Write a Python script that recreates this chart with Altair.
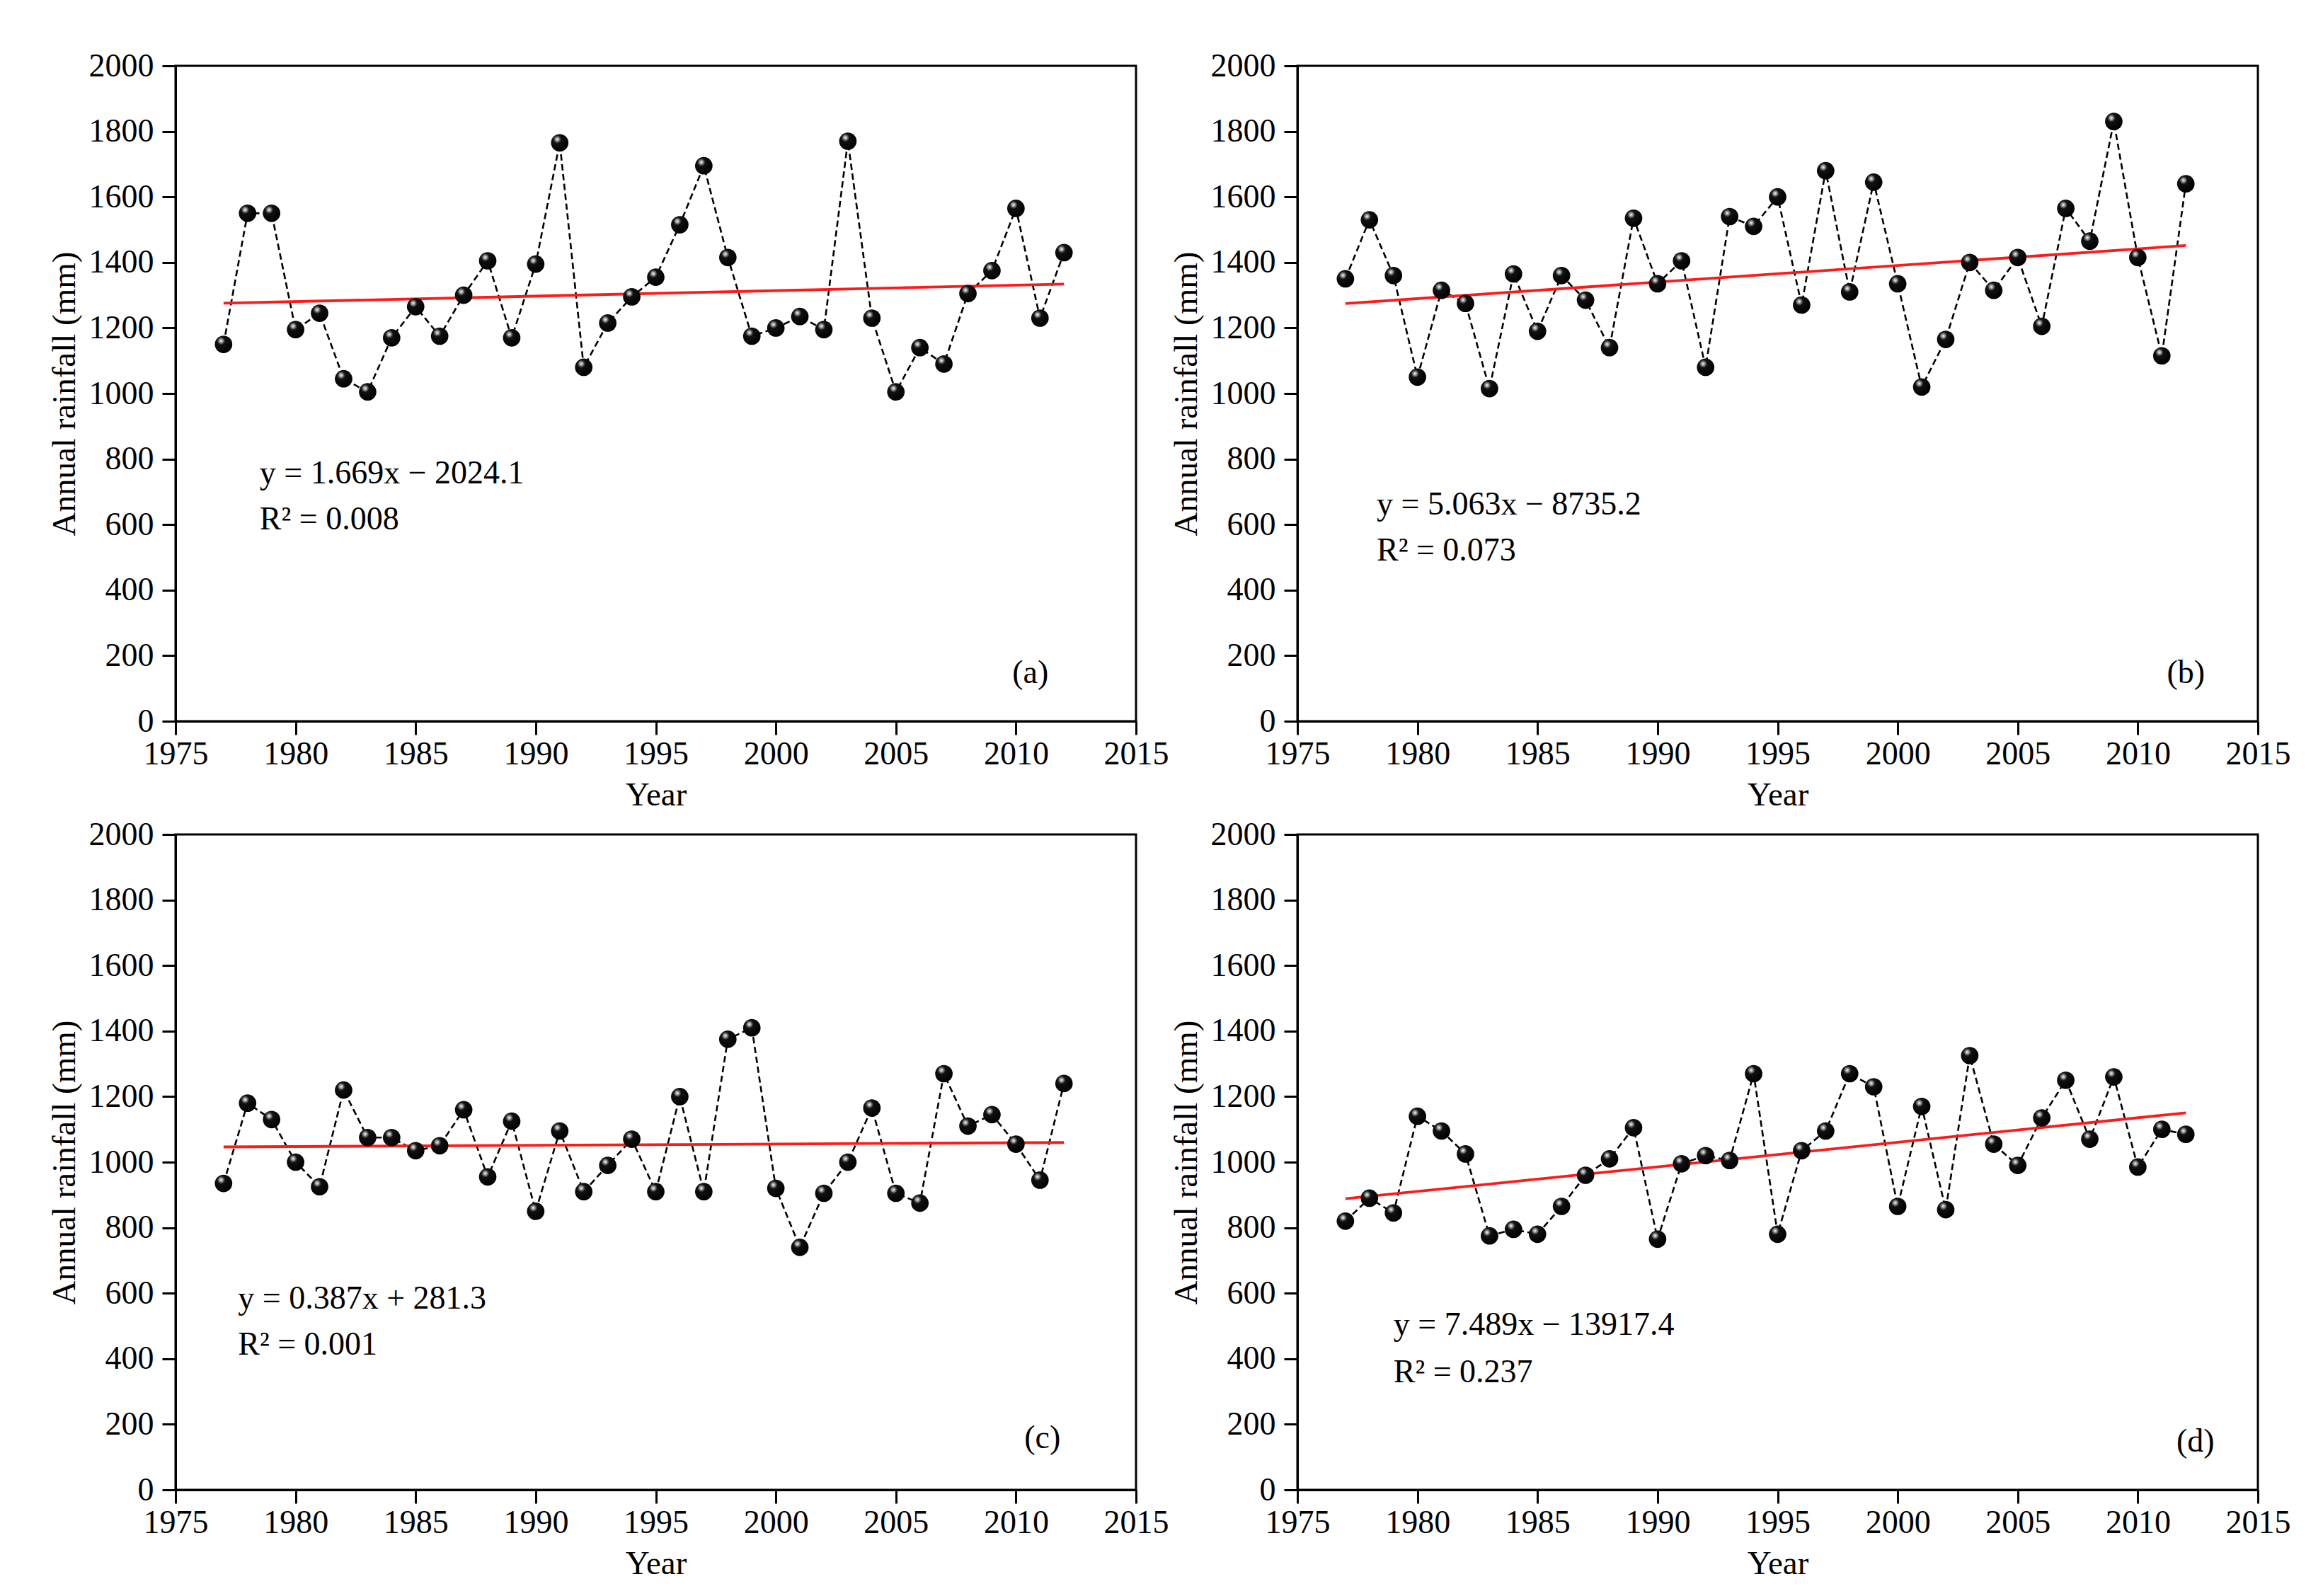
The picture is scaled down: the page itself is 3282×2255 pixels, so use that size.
import altair as alt
import pandas as pd

years = list(range(1977, 2013))

rain_a = [1150, 1550, 1550, 1195, 1245, 1045, 1005, 1170, 1265, 1175,
          1300, 1405, 1170, 1395, 1765, 1080, 1215, 1295, 1355, 1515,
          1695, 1415, 1175, 1200, 1235, 1195, 1770, 1230, 1005, 1140,
          1090, 1305, 1375, 1565, 1230, 1430]
rain_b = [1350, 1530, 1360, 1050, 1315, 1275, 1015, 1365, 1190, 1360,
          1285, 1140, 1535, 1335, 1405, 1080, 1540, 1510, 1600, 1270,
          1680, 1310, 1645, 1335, 1020, 1165, 1400, 1315, 1415, 1205,
          1565, 1465, 1830, 1415, 1115, 1640]
rain_c = [935, 1180, 1130, 1000, 925, 1220, 1075, 1075, 1035, 1050,
          1160, 955, 1125, 850, 1095, 910, 990, 1070, 910, 1200,
          910, 1375, 1410, 920, 740, 905, 1000, 1165, 905, 875,
          1270, 1110, 1145, 1055, 945, 1240]
rain_d = [820, 890, 845, 1140, 1095, 1025, 775, 795, 780, 865,
          960, 1010, 1105, 765, 995, 1020, 1005, 1270, 780, 1035,
          1095, 1270, 1230, 865, 1170, 855, 1325, 1055, 990, 1135,
          1250, 1070, 1260, 985, 1100, 1085]
series = [rain_a, rain_b, rain_c, rain_d]

slopes = [1.669, 5.063, 0.387, 7.489]
intercepts = [-2024.1, -8735.2, 281.3, -13917.4]
eq_texts = ["y = 1.669x \u2212 2024.1", "y = 5.063x \u2212 8735.2",
            "y = 0.387x + 281.3", "y = 7.489x \u2212 13917.4"]
r2_texts = ["R\u00b2 = 0.008", "R\u00b2 = 0.073", "R\u00b2 = 0.001", "R\u00b2 = 0.237"]
panel_labels = ["(a)", "(b)", "(c)", "(d)"]

# annotation anchors in data units: (x, y of equation, y of R2)
eq_anchor = [(1978.5, 756, 615), (1978.3, 661, 520), (1977.6, 583, 443), (1979.0, 503, 358)]
label_anchor = [(2010.6, 147), (2012.0, 147), (2011.1, 158), (2012.4, 147)]

FONT = "Liberation Serif"

sphere = alt.RadialGradient(
    gradient="radial",
    x1=0.36, y1=0.3, r1=0.0,
    x2=0.36, y2=0.3, r2=0.7,
    stops=[
        alt.GradientStop(offset=0.0, color="#ffffff"),
        alt.GradientStop(offset=0.14, color="#9a9a9a"),
        alt.GradientStop(offset=0.32, color="#111111"),
        alt.GradientStop(offset=1.0, color="#000000"),
    ],
)


def panel(i):
    df = pd.DataFrame({"Year": years, "Rain": series[i]})
    trend = pd.DataFrame({
        "Year": [years[0], years[-1]],
        "Rain": [slopes[i] * years[0] + intercepts[i], slopes[i] * years[-1] + intercepts[i]],
    })
    x = alt.X("Year:Q",
              scale=alt.Scale(domain=[1975, 2015], nice=False, zero=False),
              axis=alt.Axis(values=list(range(1975, 2016, 5)), format="d", title="Year",
                            labelFlush=False, labelOverlap=False))
    y = alt.Y("Rain:Q",
              scale=alt.Scale(domain=[0, 2000], nice=False),
              axis=alt.Axis(values=list(range(0, 2001, 200)), format="d",
                            title="Annual rainfall (mm)", labelFlush=False, labelOverlap=False))

    line = alt.Chart(df).mark_line(color="black", strokeDash=[9, 5], strokeWidth=2.6).encode(x=x, y=y)
    tl = alt.Chart(trend).mark_line(color="#ff1a1a", strokeWidth=3.8).encode(x="Year:Q", y="Rain:Q")
    pts = alt.Chart(df).mark_point(filled=True, shape="circle", size=610, opacity=1,
                                   fill=sphere, strokeWidth=0).encode(x="Year:Q", y="Rain:Q")

    ex, ey, ry = eq_anchor[i]
    eq = alt.Chart(pd.DataFrame({"t": [eq_texts[i]]})).mark_text(
        align="left", baseline="middle", font=FONT, fontSize=46, color="black"
    ).encode(x=alt.datum(ex), y=alt.datum(ey), text="t:N")
    r2 = alt.Chart(pd.DataFrame({"t": [r2_texts[i]]})).mark_text(
        align="left", baseline="middle", font=FONT, fontSize=46, color="black"
    ).encode(x=alt.datum(ex), y=alt.datum(ry), text="t:N")
    lx, ly = label_anchor[i]
    lab = alt.Chart(pd.DataFrame({"t": [panel_labels[i]]})).mark_text(
        align="center", baseline="middle", font=FONT, fontSize=46, color="black"
    ).encode(x=alt.datum(lx), y=alt.datum(ly), text="t:N")

    return alt.layer(line, tl, pts, eq, r2, lab).properties(width=1357, height=926)


chart = alt.concat(
    panel(0), panel(1), panel(2), panel(3),
    columns=2,
    spacing={"row": 160, "column": 228},
    bounds="flush",
).properties(
    padding={"left": 57, "top": 60, "right": 5, "bottom": 5},
    background="white",
).configure_view(
    stroke="black", strokeWidth=3
).configure_axis(
    labelFont=FONT, titleFont=FONT,
    labelFontSize=46, titleFontSize=47, titleFontWeight="normal",
    labelColor="black", titleColor="black",
    domainColor="black", domainWidth=3,
    tickColor="black", tickWidth=3, tickSize=19,
    grid=False,
).configure_axisX(
    labelPadding=5, titlePadding=12,
).configure_axisY(
    labelPadding=12, titlePadding=10,
)

chart.save("out.html", embed_options={"renderer": "svg", "actions": False})
